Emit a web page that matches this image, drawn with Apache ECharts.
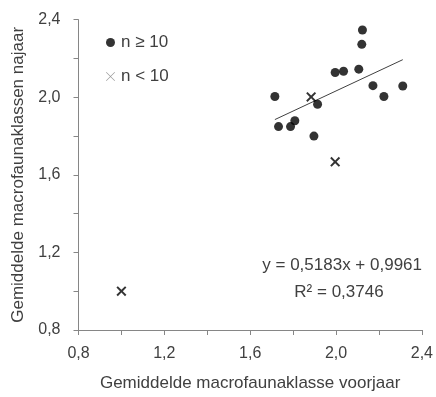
<!DOCTYPE html>
<html>
<head>
<meta charset="utf-8">
<script src="https://cdn.jsdelivr.net/npm/echarts@6/dist/echarts.min.js"></script>
<style>
html,body{margin:0;padding:0;background:#fff;}
#chart{width:436px;height:397px;}
</style>
</head>
<body>
<div id="chart"></div>
<script>
// Data: n >= 10 (circles)
const bigX = [1.715, 2.123, 2.120, 1.996, 2.035, 2.106, 2.172, 2.223, 2.311, 1.914, 1.732, 1.788, 1.808, 1.897];
const bigY = [2.004, 2.347, 2.273, 2.128, 2.134, 2.145, 2.060, 2.004, 2.058, 1.964, 1.849, 1.849, 1.879, 1.800];
// Data: n < 10 (crosses)
const smallX = [1.884, 1.996, 1.000];
const smallY = [2.002, 1.667, 1.000];
// Trend line (Excel linear fit on n >= 10)
const slope = 0.5183;
const intercept = 0.9961;
const rSquared = 0.3746;
// Axis ticks
const axisMin = 0.8, axisMax = 2.4, axisStep = 0.4;
const xTitle = 'Gemiddelde macrofaunaklasse voorjaar';
const yTitle = 'Gemiddelde macrofaunaklassen najaar';
const legendNames = ['n \u2265 10', 'n < 10'];

const fmtNum = (v, d) => v.toFixed(d).replace('.', ',');
const crossPath = 'path://M0,1.4 L1.4,0 L5,3.6 L8.6,0 L10,1.4 L6.4,5 L10,8.6 L8.6,10 L5,6.4 L1.4,10 L0,8.6 L3.6,5 Z';
const crossThin = 'path://M0,0.5 L0.5,0 L5,4.5 L9.5,0 L10,0.5 L5.5,5 L10,9.5 L9.5,10 L5,5.5 L0.5,10 L0,9.5 L4.5,5 Z';

const xMinFit = Math.min(...bigX), xMaxFit = Math.max(...bigX);
const trend = [[xMinFit, slope * xMinFit + intercept], [xMaxFit, slope * xMaxFit + intercept]];

const FONT = 'Liberation Sans';
const axisColor = '#868686';
const textColor = '#404040';

function axisCommon(name, nameGap) {
  return {
    type: 'value', min: axisMin, max: axisMax, interval: axisStep,
    name: name, nameLocation: 'middle', nameGap: nameGap,
    nameTextStyle: {fontFamily: FONT, fontSize: 17, color: textColor},
    axisLine: {show: true, lineStyle: {color: axisColor, width: 1}},
    axisTick: {show: true, length: 5, lineStyle: {color: axisColor}},
    minorTick: {show: true, splitNumber: 2, length: 5, lineStyle: {color: axisColor}},
    splitLine: {show: false},
    axisLabel: {fontFamily: FONT, fontSize: 16, color: textColor, formatter: v => fmtNum(v, 1)}
  };
}

const chart = echarts.init(document.getElementById('chart'));
const xa = axisCommon(xTitle, 45); xa.axisLabel.margin = 16;
const ya = axisCommon(yTitle, 52); ya.axisLabel.margin = 18;
chart.setOption({
  animation: false,
  grid: {left: 78.5, right: 14, top: 19.7, bottom: 65, containLabel: false},
  xAxis: xa,
  yAxis: ya,
  legend: {
    orient: 'vertical', left: 101, top: 29, itemGap: 17, itemWidth: 9, itemHeight: 9,
    textStyle: {fontFamily: FONT, fontSize: 17, color: textColor, padding: [0,0,0,1]},
    data: [
      {name: legendNames[0], icon: 'circle', itemStyle: {color: '#000'}},
      {name: legendNames[1], icon: crossThin, itemStyle: {color: '#808080'}}
    ]
  },
  series: [
    {name: legendNames[0], type: 'scatter', symbol: 'circle', symbolSize: 9,
     itemStyle: {color: '#000'}, data: bigX.map((x, i) => [x, bigY[i]]), z: 3},
    {name: legendNames[1], type: 'scatter', symbol: crossPath, symbolSize: 10,
     itemStyle: {color: '#000'}, data: smallX.map((x, i) => [x, smallY[i]]), z: 3},
    {name: 'trend', type: 'line', data: trend, symbol: 'none', silent: true,
     lineStyle: {color: '#404040', width: 1}, z: 2}
  ],
  graphic: [
    {type: 'text', x: 422, y: 265, style: {text: 'y = ' + fmtNum(slope, 4) + 'x + ' + fmtNum(intercept, 4), fontFamily: FONT, fontSize: 17, fill: textColor, align: 'right', verticalAlign: 'middle'}},
    {type: 'text', x: 339, y: 292, style: {text: 'R\u00b2 = ' + fmtNum(rSquared, 4), fontFamily: FONT, fontSize: 17, fill: textColor, align: 'center', verticalAlign: 'middle'}}
  ]
});
</script>
</body>
</html>
